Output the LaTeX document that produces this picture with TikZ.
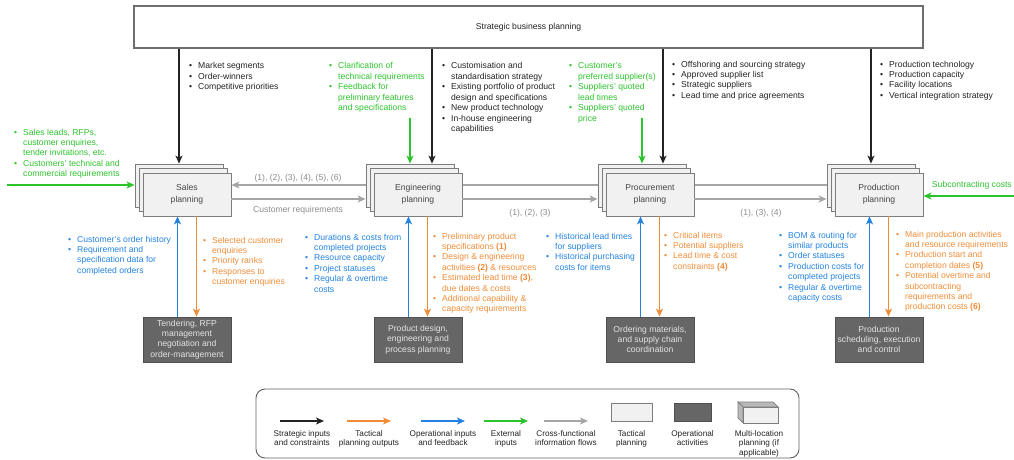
\documentclass[tikz,border=0pt]{standalone}
\usepackage{fontspec}
\setmainfont{Liberation Sans}
\usetikzlibrary{arrows.meta,backgrounds}

% palette
\definecolor{ink}{RGB}{35,35,35}
\definecolor{org}{RGB}{240,140,55}
\definecolor{blu}{RGB}{35,130,225}
\definecolor{grn}{RGB}{45,195,45}
\definecolor{flow}{RGB}{165,165,165}
\definecolor{flowtxt}{RGB}{140,140,140}
\definecolor{sline}{RGB}{110,110,110}
\definecolor{pfill}{RGB}{241,241,241}
\definecolor{pline}{RGB}{125,125,125}
\definecolor{ptext}{RGB}{70,70,70}
\definecolor{ofill}{RGB}{102,102,102}
\definecolor{oline}{RGB}{80,80,80}
\definecolor{otext}{RGB}{228,228,228}
\definecolor{lframe}{RGB}{95,95,95}
\definecolor{kside}{RGB}{185,185,185}

\newcommand{\txtsz}{\fontsize{8.6}{10.4}\selectfont}
\newcommand{\boxsz}{\fontsize{8.6}{11.5}\selectfont}
\newcommand{\keysz}{\fontsize{8.2}{9.6}\selectfont}
\newcommand{\bul}{\llap{\textbullet\hspace{6pt}}}
\newcommand{\lrows}[1]{\begin{tabular}[t]{@{}l@{}}#1\end{tabular}}
\newcommand{\crows}[1]{\begin{tabular}[t]{@{}c@{}}#1\end{tabular}}

\tikzset{
  tip/.style={-{Stealth[length=8pt,width=7pt,inset=2pt]}},
  strat/.style={tip, draw=ink, line width=1.3pt},
  tact/.style={tip, draw=org, line width=1.3pt},
  oper/.style={tip, draw=blu, line width=1.3pt},
  extn/.style={tip, draw=grn, line width=1.3pt},
  cross/.style={tip, draw=flow, line width=1.3pt},
  planbox/.style={draw=pline, fill=pfill, line width=0.8pt, minimum width=88pt,
    minimum height=43pt, inner sep=0pt, align=center, font=\boxsz, text=ptext},
  opbox/.style={draw=oline, fill=ofill, line width=0.8pt, minimum width=88pt,
    minimum height=45pt, inner sep=0pt, align=center, font=\txtsz, text=otext},
  lst/.style={anchor=base west, inner sep=0pt, font=\txtsz},
  lbl/.style={anchor=base, inner sep=0pt, font=\txtsz, text=flowtxt},
  klbl/.style={anchor=base, inner sep=0pt, font=\keysz, text=ink},
}

% a tactical planning box drawn as a stack of three sheets
\newcommand{\planstack}[4]{%
  \node[planbox] (#1B) at (#2-8,#3-9) {};
  \node[planbox] (#1M) at (#2-4,#3-4.5) {};
  \node[planbox] (#1) at (#2,#3) {#4};
}

\begin{document}
\begin{tikzpicture}[x=1pt,y=-1pt]
\useasboundingbox (0,0) rectangle (1014,460);

% strategic level
\node[draw=sline, fill=white, line width=1.2pt, minimum width=789pt, minimum height=42pt,
  inner sep=0pt, font=\txtsz, text=ink] (strat) at (528.5,27) {Strategic business planning};

% tactical planning
\planstack{sales}{187}{194.5}{Sales\\planning}
\planstack{eng}{418}{194.5}{Engineering\\planning}
\planstack{proc}{650}{194.5}{Procurement\\planning}
\planstack{prod}{879}{194.5}{Production\\planning}

% operational activities
\node[opbox] (salesOp) at (187,339.5) {Tendering, RFP\\management\\negotiation and\\order-management};
\node[opbox] (engOp) at (418,339.5) {Product design,\\engineering and\\process planning};
\node[opbox] (procOp) at (650,339.5) {Ordering materials,\\and supply chain\\coordination};
\node[opbox] (prodOp) at (879,339.5) {Production\\scheduling, execution\\and control};

% levels of the horizontal flows
\coordinate (yHi) at (0,185);
\coordinate (yLo) at (0,199);
\coordinate (leadsIn) at (7,185);
\coordinate (subIn) at (1014,196);

% cross-functional flows
\begin{scope}[on background layer]
  \draw[cross] (prodB.west |- yHi) -- (sales.east |- yHi);
\end{scope}
\draw[cross] (sales.east |- yLo) -- (engB.west |- yLo);
\draw[cross] (eng.east |- yLo) -- (procB.west |- yLo);
\draw[cross] (proc.east |- yLo) -- (prodB.west |- yLo);
\node[lbl] (fbLbl) at (298,180) {(1), (2), (3), (4), (5), (6)};
\node[lbl] (crLbl) at (298,212) {Customer requirements};
\node[lbl] (epLbl) at (530,215) {(1), (2), (3)};
\node[lbl] (ppLbl) at (761,215) {(1), (3), (4)};

% strategic inputs
\coordinate (engS) at ([xshift=22pt]engB.north);
\coordinate (procS) at ([xshift=21pt]procB.north);
\draw[strat] (strat.south -| salesB.north) -- (salesB.north);
\draw[strat] (strat.south -| engS) -- (engS);
\draw[strat] (strat.south -| procS) -- (procS);
\draw[strat] (strat.south -| prodB.north) -- (prodB.north);

% external inputs
\draw[extn] (leadsIn) -- (salesB.west |- leadsIn);
\draw[extn] ([yshift=46pt]engB.north) -- (engB.north);
\draw[extn] ([yshift=46pt]procB.north) -- (procB.north);
\draw[extn] (subIn) -- (prod.east |- subIn);
\node[lbl, anchor=base east, text=grn] (subLbl) at (1012,187) {Subcontracting costs};

% operational feedback and tactical outputs
\foreach \n in {sales,eng,proc,prod}{
  \draw[oper] ([xshift=-9.5pt]\n Op.north) -- ([xshift=-9.5pt]\n.south);
  \draw[tact] ([xshift=9.5pt]\n.south) -- ([xshift=9.5pt]\n Op.north);
}

% strategic constraints
\node[lst, text=ink] (sSales) at (198,69) {\lrows{\bul Market segments\\ \bul Order-winners\\ \bul Competitive priorities}};
\node[lst, text=ink] (sEng) at (451,69) {\lrows{\bul Customisation and\\ standardisation strategy\\ \bul Existing portfolio of product\\ design and specifications\\ \bul New product technology\\ \bul In-house engineering\\ capabilities}};
\node[lst, text=ink] (sProc) at (681,67) {\lrows{\bul Offshoring and sourcing strategy\\ \bul Approved supplier list\\ \bul Strategic suppliers\\ \bul Lead time and price agreements}};
\node[lst, text=ink] (sProd) at (889,67) {\lrows{\bul Production technology\\ \bul Production capacity\\ \bul Facility locations\\ \bul Vertical integration strategy}};

% external input lists
\node[lst, text=grn] (xSales) at (23,135) {\lrows{\bul Sales leads, RFPs,\\ customer enquiries,\\ tender invitations, etc.\\ \bul Customers' technical and\\ commercial requirements}};
\node[lst, text=grn] (xEng) at (338,69) {\lrows{\bul Clarification of\\ technical requirements\\ \bul Feedback for\\ preliminary features\\ and specifications}};
\node[lst, text=grn] (xProc) at (578,69) {\lrows{\bul Customer's\\ preferred supplier(s)\\ \bul Suppliers' quoted\\ lead times\\ \bul Suppliers' quoted\\ price}};

% operational feedback lists
\node[lst, text=blu] (oSales) at (77,242) {\lrows{\bul Customer's order history\\ \bul Requirement and\\ specification data for\\ completed orders}};
\node[lst, text=blu] (oEng) at (314,240) {\lrows{\bul Durations \& costs from\\ completed projects\\ \bul Resource capacity\\ \bul Project statuses\\ \bul Regular \& overtime\\ costs}};
\node[lst, text=blu] (oProc) at (555,239) {\lrows{\bul Historical lead times\\ for suppliers\\ \bul Historical purchasing\\ costs for items}};
\node[lst, text=blu] (oProd) at (788,238) {\lrows{\bul BOM \& routing for\\ similar products\\ \bul Order statuses\\ \bul Production costs for\\ completed projects\\ \bul Regular \& overtime\\ capacity costs}};

% tactical output lists
\node[lst, text=org] (tSales) at (212,243) {\lrows{\bul Selected customer\\ enquiries\\ \bul Priority ranks\\ \bul Responses to\\ customer enquiries}};
\node[lst, text=org] (tEng) at (442,239) {\lrows{\bul Preliminary product\\ specifications \textbf{(1)}\\ \bul Design \& engineering\\ activities \textbf{(2)} \& resources\\ \bul Estimated lead time \textbf{(3)},\\ due dates \& costs\\ \bul Additional capability \&\\ capacity requirements}};
\node[lst, text=org] (tProc) at (673,238) {\lrows{\bul Critical items\\ \bul Potential suppliers\\ \bul Lead time \& cost\\ constraints \textbf{(4)}}};
\node[lst, text=org] (tProd) at (905,237) {\lrows{\bul Main production activities\\ and resource requirements\\ \bul Production start and\\ completion dates \textbf{(5)}\\ \bul Potential overtime and\\ subcontracting\\ requirements and\\ production costs \textbf{(6)}}};

% legend
\node[draw=lframe, line width=0.9pt, rounded corners=9pt, minimum width=543pt,
  minimum height=69pt, inner sep=0pt] (legend) at (527.5,423.5) {};
\coordinate (k1a) at (280,421); \coordinate (k1b) at (324,421);
\coordinate (k2a) at (347,421); \coordinate (k2b) at (391,421);
\coordinate (k3a) at (421,421); \coordinate (k3b) at (465,421);
\coordinate (k4a) at (484,421); \coordinate (k4b) at (528,421);
\coordinate (k5a) at (544,421); \coordinate (k5b) at (588,421);
\draw[strat] (k1a) -- (k1b);
\draw[tact] (k2a) -- (k2b);
\draw[oper] (k3a) -- (k3b);
\draw[extn] (k4a) -- (k4b);
\draw[cross] (k5a) -- (k5b);
\node[draw=pline, fill=pfill, line width=0.8pt, minimum width=41pt, minimum height=18pt, inner sep=0pt] (kTac) at (631.5,412) {};
\node[draw=oline, fill=ofill, line width=0.8pt, minimum width=37pt, minimum height=18pt, inner sep=0pt] (kOp) at (692.5,412) {};
% multi-location sheet drawn as a block
\filldraw[draw=pline, fill=kside, line width=0.7pt] (738,402) -- (773,402) -- (778,407) -- (743,407) -- cycle;
\filldraw[draw=pline, fill=kside, line width=0.7pt] (738,402) -- (743,407) -- (743,423) -- (738,418) -- cycle;
\node[draw=pline, fill=pfill, line width=0.7pt, minimum width=35pt, minimum height=16pt, inner sep=0pt] (kMulti) at (760.5,415) {};

\node[klbl] (k1t) at (302,436) {\crows{Strategic inputs\\and constraints}};
\node[klbl] (k2t) at (369,436) {\crows{Tactical\\planning outputs}};
\node[klbl] (k3t) at (443,436) {\crows{Operational inputs\\and feedback}};
\node[klbl] (k4t) at (506,436) {\crows{External\\inputs}};
\node[klbl] (k5t) at (566,436) {\crows{Cross-functional\\information flows}};
\node[klbl] (k6t) at (631.5,436) {\crows{Tactical\\planning}};
\node[klbl] (k7t) at (692.5,436) {\crows{Operational\\activities}};
\node[klbl] (k8t) at (759,436) {\crows{Multi-location\\planning (if\\applicable)}};
\end{tikzpicture}
\end{document}
